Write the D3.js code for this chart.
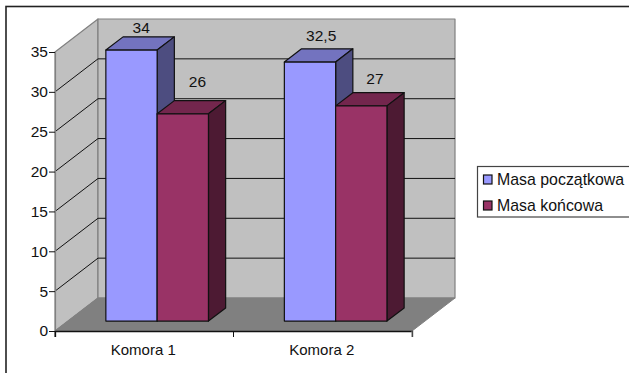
<!DOCTYPE html>
<html><head><meta charset="utf-8">
<script src="https://cdn.jsdelivr.net/npm/d3@7/dist/d3.min.js"></script>
<style>html,body{margin:0;padding:0;background:#fff}svg{display:block}text{font-family:"Liberation Sans",Arial,sans-serif;fill:#111}</style>
</head><body><svg id="chart" width="629" height="373"></svg>
<script>
const categories = ["Komora 1", "Komora 2"];
const seriesNames = ["Masa początkowa", "Masa końcowa"];
const masaPoczatkowa = [34, 32.5];
const masaKoncowa = [26, 27];
const valueLabels = [["34", "32,5"], ["26", "27"]];
const yTicks = [0, 5, 10, 15, 20, 25, 30, 35];
const seriesValues = [masaPoczatkowa, masaKoncowa];
const faceColors = [
  {front: "#9999ff", top: "#7373bf", side: "#4d4d80"},
  {front: "#993366", top: "#73264d", side: "#4d1a33"}
];
// Hand-placed offsets of the value labels from each bar's rear top edge
const labelNudge = [[[-7.5, -4], [-6, -8]], [[-2.5, -14], [-3.5, -9]]];

const svg = d3.select("#chart");
const plot = {left: 55, right: 412, top: 52, bottom: 331, dx: 43, dy: -33};
const barDepth = {start: 0.3, end: 0.7};
const fontFamily = '"Liberation Sans",Arial,sans-serif';

const x = d3.scaleBand().domain(categories).range([plot.left, plot.right]);
const inner = d3.scaleBand().domain(seriesNames).range([0, x.bandwidth()]).paddingInner(0).paddingOuter(0.74);
const y = d3.scaleLinear().domain([0, 35]).range([plot.bottom, plot.top]);

const pts = a => a.map(p => p.join(",")).join(" ");
const poly = (points, fill, stroke, w) => svg.append("polygon")
  .attr("points", pts(points)).attr("fill", fill)
  .attr("stroke", stroke).attr("stroke-width", w).attr("stroke-linejoin", "round");

// Outer chart frame, running off the right and bottom of the page
svg.append("rect").attr("x", 6).attr("y", 6.5).attr("width", 640).attr("height", 380)
  .attr("fill", "#fff").attr("stroke", "#222").attr("stroke-width", 1.6);

// Walls and floor of the 3D box
const {left: L, right: R, top: T, bottom: B, dx: DX, dy: DY} = plot;
poly([[L, B], [L, T], [L + DX, T + DY], [L + DX, B + DY]], "#c0c0c0", "#808080", 1.2);
poly([[L + DX, T + DY], [R + DX, T + DY], [R + DX, B + DY], [L + DX, B + DY]], "#c0c0c0", "#808080", 1.2);
poly([[L, B], [L + DX, B + DY], [R + DX, B + DY], [R, B]], "#808080", "#808080", 1);

// Gridlines across the side and back walls
yTicks.filter(t => t > 0 && t < 35).forEach(t => {
  svg.append("polyline").attr("fill", "none").attr("stroke", "#111").attr("stroke-width", 1)
    .attr("points", pts([[L, y(t)], [L + DX, y(t) + DY], [R + DX, y(t) + DY]]));
});

// Axes
const yAxis = svg.append("g").attr("transform", `translate(${L},0)`)
  .call(d3.axisLeft(y).tickValues(yTicks).tickSize(6).tickPadding(1));
yAxis.select(".domain").attr("stroke", "#808080").attr("stroke-width", 1.2);
yAxis.selectAll("line").attr("stroke", "#111");
yAxis.selectAll("text").attr("font-size", 15.5).style("font-family", fontFamily);

const xAxis = svg.append("g").attr("transform", `translate(0,${B})`)
  .call(d3.axisBottom(x).tickSize(6).tickSizeOuter(6).tickPadding(7));
xAxis.select(".domain").attr("stroke", "#111").attr("stroke-width", 1.3);
xAxis.selectAll(".tick line").remove();
[L, (L + R) / 2, R].forEach(px => svg.append("line")
  .attr("x1", px).attr("x2", px).attr("y1", B).attr("y2", B + 6)
  .attr("stroke", px === R ? "#808080" : "#111"));
xAxis.selectAll("text").attr("font-size", 15).attr("dx", -1).style("font-family", fontFamily);

// Extruded bars, drawn one series at a time so neighbours overlap correctly
categories.forEach((cat, c) => {
  seriesNames.forEach((name, s) => {
    const v = seriesValues[s][c];
    const x0 = x(cat) + inner(name) + DX * barDepth.start;
    const x1 = x0 + inner.bandwidth();
    const yb = y(0) + DY * barDepth.start;
    const yt = y(v) + DY * barDepth.start;
    const ddx = DX * (barDepth.end - barDepth.start);
    const ddy = DY * (barDepth.end - barDepth.start);
    const col = faceColors[s];
    poly([[x0, yt], [x1, yt], [x1 + ddx, yt + ddy], [x0 + ddx, yt + ddy]], col.top, "#111", 1.2);
    poly([[x1, yt], [x1 + ddx, yt + ddy], [x1 + ddx, yb + ddy], [x1, yb]], col.side, "#111", 1.2);
    poly([[x0, yt], [x1, yt], [x1, yb], [x0, yb]], col.front, "#111", 1.2);
    const [nx, ny] = labelNudge[s][c];
    svg.append("text").attr("x", (x0 + x1) / 2 + ddx + nx).attr("y", yt + ddy + ny)
      .attr("text-anchor", "middle").attr("font-size", 15.5).text(valueLabels[s][c]);
  });
});

// Legend box, open past the right edge of the page
svg.append("rect").attr("x", 477.5).attr("y", 166.5).attr("width", 160).attr("height", 50.5)
  .attr("fill", "#fff").attr("stroke", "#444").attr("stroke-width", 1.2);
seriesNames.forEach((name, i) => {
  const cy = 179.5 + i * 26;
  svg.append("rect").attr("x", 483.5).attr("y", cy - 4.5).attr("width", 8.5).attr("height", 9)
    .attr("fill", faceColors[i].front).attr("stroke", "#111").attr("stroke-width", 1.2);
  svg.append("text").attr("x", 497).attr("y", cy + 5).attr("font-size", 15.9).text(name);
});
</script></body></html>
